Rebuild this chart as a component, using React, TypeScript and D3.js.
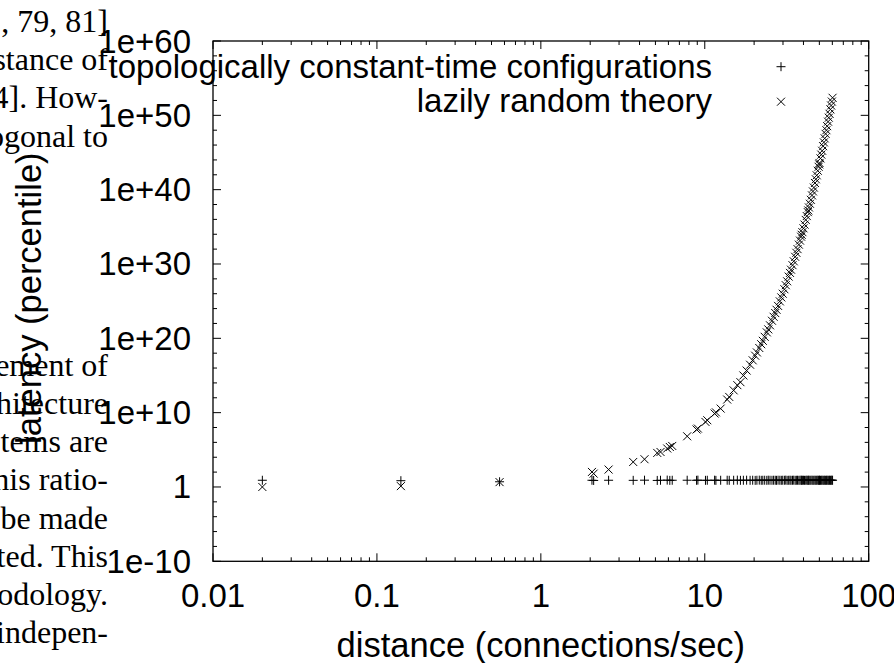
import React from "react";
import * as d3 from "d3";

// ---- data ----
const distance = [
  0.02, 0.14, 0.56, 2.05, 2.1, 2.59, 3.66, 4.29, 5.13, 5.37, 5.9, 6.12, 6.33,
  7.81, 8.91, 9.08, 10.1, 10.36, 11.48, 11.69, 12.5, 13.7, 14.1, 15.0, 15.8,
  16.5, 17.2, 18.0, 18.9, 19.6, 20.3, 20.8, 21.5, 22.1, 22.6, 23.2, 23.9, 24.4,
  25.0, 25.7, 26.3, 26.9, 27.4, 28.0, 28.7, 29.3, 29.9, 30.6, 31.2, 31.8, 32.5,
  33.1, 33.6, 34.3, 34.9, 35.6, 36.2, 36.8, 37.5, 38.1, 38.7, 39.0, 39.4, 40.0,
  40.6, 41.3, 41.9, 42.5, 42.8, 43.2, 43.8, 44.4, 45.1, 45.7, 46.3, 47.0, 47.6,
  48.2, 48.9, 49.5, 49.9, 50.1, 50.8, 51.4, 52.0, 52.7, 53.3, 53.9, 54.6, 55.2,
  55.8, 56.5, 57.1, 57.7, 58.4, 59.0, 59.6, 60.2,
];

// "topologically constant-time configurations" (+)
const constantTime = [
  8, 7, 5, 8, 7.5, 8, 7.8, 8.2, 7.6, 8, 8.4, 7.7, 8, 8.1, 7.9, 8.3, 7.8, 8,
  8.2, 7.7, 8, 8.1, 7.9, 8, 8.3, 7.8, 8, 8.2, 7.9, 8.1, 7.7, 8, 8.3, 7.9, 8,
  8.1, 7.8, 8.2, 8, 7.9, 8.1, 8, 7.8, 8.2, 8, 7.9, 8.1, 8, 8.3, 7.8, 8, 8.1,
  7.9, 8, 8.2, 7.8, 8, 8.1, 7.9, 8, 8.2, 7.8, 8, 8.1, 7.9, 8, 8.2, 7.8, 8,
  8.1, 7.9, 8, 8.2, 7.8, 8, 8.1, 7.9, 8, 8.2, 7.8, 8, 8.1, 7.9, 8, 8.2, 7.8,
  8, 8.1, 7.9, 8, 8.2, 7.8, 8, 8.1, 7.9, 8, 8.2, 8,
];

// "lazily random theory" (x)
const lazilyRandom = [
  1.0, 1.3, 4.5, 1.05e2, 6.3e1, 2.2e2, 2.3e3, 5.4e3, 3.8e4, 5.1e4, 1.5e5,
  2.4e5, 3.3e5, 6.6e6, 5.4e7, 7.2e7, 5.6e8, 9.5e8, 7.6e9, 1.1e10, 3.5e10,
  5.8e11, 1.3e12, 1e13, 5e13, 1.26e14, 1.0e15, 4.6e15, 2.8e16, 1.1e17, 4.6e17,
  1.26e18, 5.0e18, 1.6e19, 4.6e19, 1.6e20, 6.3e20, 1.6e21, 5.6e21, 2.3e22,
  7.9e22, 2.5e23, 6.9e23, 2.3e24, 9.3e24, 3.2e25, 1e26, 4e26, 1.4e27, 4.7e27,
  2e28, 6.3e28, 1.7e29, 6.9e29, 2.3e30, 9.3e30, 3.2e31, 1e32, 4e32, 1.4e33,
  4.7e33, 8.5e33, 1.9e34, 6.3e34, 2e35, 8.5e35, 2.8e36, 9.5e36, 1.6e37, 4e37,
  1.26e38, 4.3e38, 1.7e39, 5.8e39, 1.9e40, 7.9e40, 2.5e41, 8.5e41, 3.5e42,
  1.2e43, 2.5e43, 3.9e43, 1.6e44, 5.2e44, 1.7e45, 7.1e45, 2.3e46, 7.9e46,
  3.2e47, 1e48, 3.5e48, 1.4e49, 4.8e49, 1.6e50, 6.3e50, 2.1e51, 7.1e51, 2.3e52,
];

const xTickValues = [0.01, 0.1, 1, 10, 100];
const xTickLabels = ["0.01", "0.1", "1", "10", "100"];
const yTickValues = [1e-10, 1, 1e10, 1e20, 1e30, 1e40, 1e50, 1e60];
const yTickLabels = ["1e-10", "1", "1e+10", "1e+20", "1e+30", "1e+40", "1e+50", "1e+60"];

const seriesNames = ["topologically constant-time configurations", "lazily random theory"];
const xTitle = "distance (connections/sec)";
const yTitle = "latency (percentile)";

// background page text fragments (line index, text)
const pageLines: [number, string][] = [
  [0, ", 79, 81]"],
  [1, "stance of"],
  [2, "4]. How-"],
  [3, "ogonal to"],
  [9, "ement of"],
  [10, "hitecture"],
  [11, "tems are"],
  [12, "his ratio-"],
  [13, "be made"],
  [14, "ted. This"],
  [15, "odology."],
  [16, "indepen-"],
];

const W = 894;
const H = 663;
const L = 213;
const R = 868.7;
const T = 41;
const B = 561.3;
const SANS = "'Liberation Sans', Arial, Helvetica, sans-serif";
const SERIF = "'Liberation Serif', 'Times New Roman', serif";
const FS = 33;
const FT = 34.5;

function plusPath(x: number, y: number, s: number) {
  return `M${x - s},${y}H${x + s}M${x},${y - s}V${y + s}`;
}
function crossPath(x: number, y: number, s: number) {
  return `M${x - s},${y - s}L${x + s},${y + s}M${x - s},${y + s}L${x + s},${y - s}`;
}

export default function App() {
  const x = d3.scaleLog().domain([0.01, 100]).range([L, R]);
  const y = d3.scaleLog().domain([1e-10, 1e60]).range([B, T]);

  const xMinor = x.ticks().filter((v) => !xTickValues.some((m) => Math.abs(m - v) / m < 1e-9));
  const yMinor = d3
    .range(-10, 61, 2)
    .filter((e) => e % 10 !== 0)
    .map((e) => Math.pow(10, e));

  const MAJ = 8;
  const MIN = 4;

  let ticks = "";
  xTickValues.forEach((v) => {
    const px = x(v);
    ticks += `M${px},${B}V${B - MAJ}M${px},${T}V${T + MAJ}`;
  });
  xMinor.forEach((v) => {
    const px = x(v);
    ticks += `M${px},${B}V${B - MIN}M${px},${T}V${T + MIN}`;
  });
  yTickValues.forEach((v) => {
    const py = y(v);
    ticks += `M${L},${py}H${L + MAJ}M${R},${py}H${R - MAJ}`;
  });
  yMinor.forEach((v) => {
    const py = y(v);
    ticks += `M${L},${py}H${L + MIN}M${R},${py}H${R - MIN}`;
  });

  let plusD = "";
  let crossD = "";
  distance.forEach((d, i) => {
    plusD += plusPath(x(d), y(constantTime[i]), 4.5);
    crossD += crossPath(x(d), y(lazilyRandom[i]), 4);
  });

  return (
    <svg
      width={W}
      height={H}
      style={{ position: "absolute", left: 0, top: 0, background: "#fff" }}
    >
      <rect x={0} y={0} width={W} height={H} fill="#fff" />
      {/* page text */}
      <g fontFamily={SERIF} fontSize={32} fill="#000" textAnchor="end">
        {pageLines.map(([i, t]) => (
          <text key={i} x={108} y={32 + 38.2 * i}>
            {t}
          </text>
        ))}
      </g>
      {/* frame and ticks */}
      <path d={ticks} stroke="#000" strokeWidth={1} fill="none" />
      <rect x={L} y={T} width={R - L} height={B - T} fill="none" stroke="#000" strokeWidth={1.3} />
      {/* tick labels */}
      <g fontFamily={SANS} fontSize={FS} fill="#000">
        {yTickValues.map((v, i) => (
          <text key={i} x={191} y={y(v) + 11.5} textAnchor="end">
            {yTickLabels[i]}
          </text>
        ))}
        {xTickValues.map((v, i) => (
          <text key={i} x={x(v)} y={607} textAnchor="middle">
            {xTickLabels[i]}
          </text>
        ))}
        <text x={(L + R) / 2} y={657} textAnchor="middle" fontSize={FT}>
          {xTitle}
        </text>
        <text
          transform={`translate(41,${(T + B) / 2 - 3}) rotate(-90)`}
          textAnchor="middle"
          fontSize={FT}
        >
          {yTitle}
        </text>
        <text x={712} y={78} textAnchor="end">
          {seriesNames[0]}
        </text>
        <text x={712} y={112} textAnchor="end">
          {seriesNames[1]}
        </text>
      </g>
      {/* legend markers */}
      <path d={plusPath(781, 66.7, 4.5)} stroke="#000" strokeWidth={1} fill="none" />
      <path d={crossPath(781, 101.7, 4)} stroke="#000" strokeWidth={1} fill="none" />
      {/* data */}
      <path d={plusD} stroke="#000" strokeWidth={1} fill="none" />
      <path d={crossD} stroke="#000" strokeWidth={1} fill="none" />
    </svg>
  );
}
